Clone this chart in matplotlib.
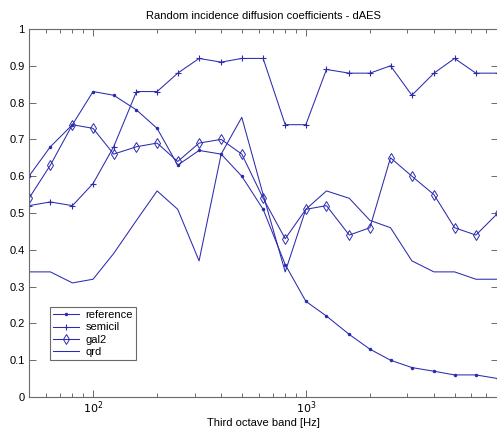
import matplotlib
matplotlib.use("Agg")
import matplotlib.pyplot as plt
from matplotlib.ticker import FixedLocator, LogLocator, NullFormatter

plt.rcParams['font.family'] = ['Liberation Sans', 'DejaVu Sans']

freqs = [50, 63, 80, 100, 125, 160, 200, 250, 315, 400, 500, 630, 800,
         1000, 1250, 1600, 2000, 2500, 3150, 4000, 5000, 6300, 8000]

reference = [0.60, 0.68, 0.74, 0.83, 0.82, 0.78, 0.73, 0.63, 0.67, 0.66, 0.60, 0.51, 0.36,
             0.26, 0.22, 0.17, 0.13, 0.10, 0.08, 0.07, 0.06, 0.06, 0.05]
semicil = [0.52, 0.53, 0.52, 0.58, 0.68, 0.83, 0.83, 0.88, 0.92, 0.91, 0.92, 0.92, 0.74,
           0.74, 0.89, 0.88, 0.88, 0.90, 0.82, 0.88, 0.92, 0.88, 0.88]
gal2 = [0.54, 0.63, 0.74, 0.73, 0.66, 0.68, 0.69, 0.64, 0.69, 0.70, 0.66, 0.54, 0.43,
        0.51, 0.52, 0.44, 0.46, 0.65, 0.60, 0.55, 0.46, 0.44, 0.50]
qrd = [0.34, 0.34, 0.31, 0.32, 0.39, 0.48, 0.56, 0.51, 0.37, 0.66, 0.76, 0.55, 0.34,
       0.51, 0.56, 0.54, 0.48, 0.46, 0.37, 0.34, 0.34, 0.32, 0.32]

yticks = [0, 0.1, 0.2, 0.3, 0.4, 0.5, 0.6, 0.7, 0.8, 0.9, 1]
ytick_labels = ['0', '0.1', '0.2', '0.3', '0.4', '0.5', '0.6', '0.7', '0.8', '0.9', '1']

col = '#2b2bb0'
axcol = '#6a6a6a'

fig = plt.figure(figsize=(4.97, 4.30), dpi=100)
ax = fig.add_axes([29/497, 1 - 397/430, 469/497, 368/430])

lw = 0.75
ax.plot(freqs, reference, color=col, lw=lw, marker='.', ms=3, label='reference')
ax.plot(freqs, semicil, color=col, lw=lw, marker='+', ms=5, mew=0.8, label='semicil')
ax.plot(freqs, gal2, color=col, lw=lw, marker='d', ms=5, mfc='none', mew=0.7, label='gal2')
ax.plot(freqs, qrd, color=col, lw=lw, label='qrd')

ax.set_xscale('log')
ax.set_xlim(50, 8000)
ax.set_ylim(0, 1)
ax.set_yticks(yticks)
ax.set_yticklabels(ytick_labels)
ax.xaxis.set_major_locator(FixedLocator([100, 1000]))
ax.set_xticklabels([r'$10^2$', r'$10^3$'])
ax.xaxis.set_minor_locator(LogLocator(base=10, subs=range(2, 10), numticks=20))
ax.xaxis.set_minor_formatter(NullFormatter())

for s in ax.spines.values():
    s.set_color(axcol)
    s.set_linewidth(0.8)
ax.tick_params(which='both', direction='in', top=True, right=True, colors=axcol,
               labelcolor='black', labelsize=8, width=0.7)
ax.tick_params(which='major', length=5, pad=3)
ax.tick_params(axis='x', which='major', pad=2)
ax.tick_params(which='minor', length=3)

ax.set_title('Random incidence diffusion coefficients - dAES', fontsize=8, pad=7)
ax.set_xlabel('Third octave band [Hz]', fontsize=8)
ax.xaxis.set_label_coords(0.5, -0.058)

leg = ax.legend(loc='lower left', bbox_to_anchor=(0.045, 0.10), fontsize=8,
                frameon=True, fancybox=False, framealpha=1, edgecolor=axcol,
                handlelength=2.3, handletextpad=0.6, labelspacing=0.2,
                borderpad=0.3, markerscale=1.0, numpoints=1, borderaxespad=0)
leg.get_frame().set_linewidth(0.8)

fig.savefig('out.png', dpi=100)
